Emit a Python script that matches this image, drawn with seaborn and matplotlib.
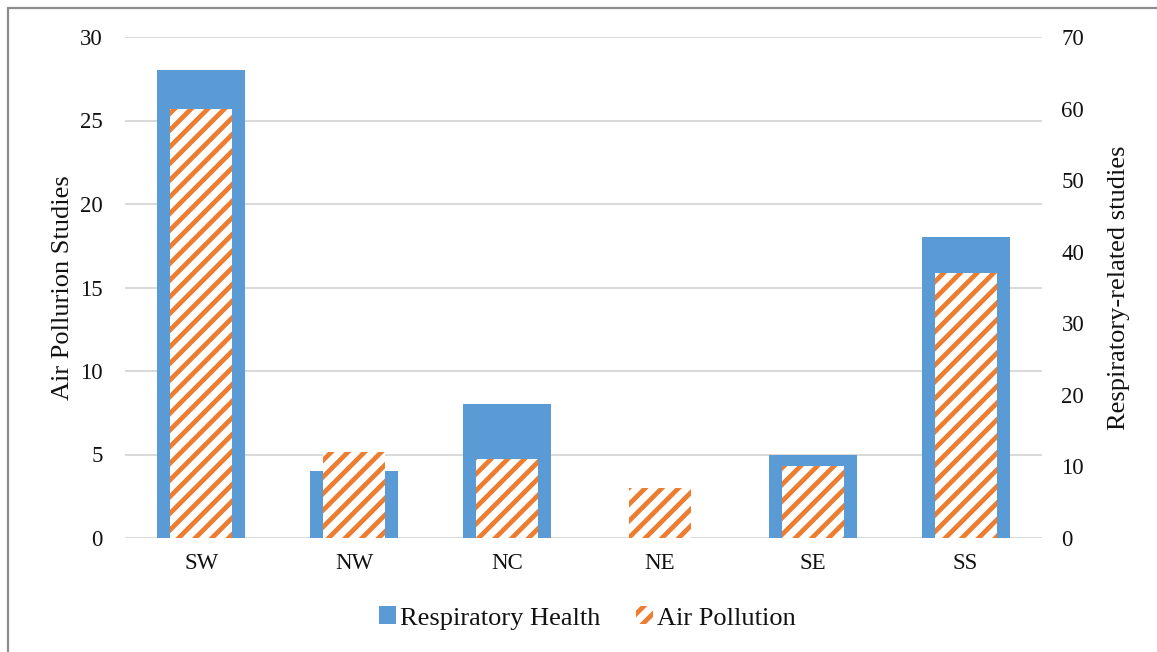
import matplotlib
matplotlib.use("Agg")
import matplotlib.pyplot as plt
from matplotlib.patches import Patch, Rectangle
import seaborn as sns
import pandas as pd

# Study counts by region
regions = ["SW", "NW", "NC", "NE", "SE", "SS"]
respiratory_health = [28, 4, 8, 0, 5, 18]
air_pollution = [60, 12, 11, 7, 10, 37]

left_ticks = [0, 5, 10, 15, 20, 25, 30]
right_ticks = [0, 10, 20, 30, 40, 50, 60, 70]

BLUE = "#5B9BD5"
ORANGE = "#ED7D31"
GRID = "#D9D9D9"
TEXT = "#111111"

sns.set_theme(style="white")
plt.rcParams["font.family"] = ["Liberation Serif", "DejaVu Serif"]
plt.rcParams["hatch.linewidth"] = 3.4
plt.rcParams["hatch.color"] = ORANGE

df_resp = pd.DataFrame({"region": regions, "count": respiratory_health})
df_air = pd.DataFrame({"region": regions, "count": air_pollution})

fig = plt.figure(figsize=(11.57, 6.52), dpi=100)
ax = fig.add_axes([125 / 1157, 1 - 538 / 652, (1042 - 125) / 1157, (538 - 37) / 652])

sns.barplot(data=df_resp, x="region", y="count", order=regions, ax=ax,
            color=BLUE, saturation=1, width=0.576, linewidth=0, zorder=2)
ax.set_ylim(0, 30)
ax.set_yticks(left_ticks)
ax.set_xlim(-0.5, 5.5)
ax.yaxis.grid(True, color=GRID, linewidth=1.4, zorder=0)
ax.set_axisbelow(True)
ax.set_xlabel("")
ax.set_ylabel("Air Pollurion Studies", fontsize=19, labelpad=4, color=TEXT)
ax.tick_params(axis="y", length=0, pad=16, labelsize=16.5, colors=TEXT)
ax.tick_params(axis="x", length=0, pad=11, labelsize=16.5, colors=TEXT)
for s in ax.spines.values():
    s.set_visible(False)

ax2 = ax.twinx()
sns.barplot(data=df_air, x="region", y="count", order=regions, ax=ax2,
            color="white", saturation=1, width=0.405, hatch="//",
            edgecolor=ORANGE, linewidth=0, zorder=3)
ax2.set_ylim(0, 70)
ax2.set_yticks(right_ticks)
ax2.set_xlim(-0.5, 5.5)
ax2.set_ylabel("Respiratory-related studies", fontsize=19, labelpad=17, color=TEXT)
ax2.tick_params(axis="y", length=0, pad=14, labelsize=16.5, colors=TEXT)
ax2.grid(False)
for s in ax2.spines.values():
    s.set_visible(False)

handles = [
    Patch(facecolor=BLUE, edgecolor="none", label="Respiratory Health"),
    Patch(facecolor="white", hatch="//", edgecolor=ORANGE, linewidth=0,
          label="Air Pollution"),
]
leg = fig.legend(handles=handles, loc="center",
                 bbox_to_anchor=(587.5 / 1157, 1 - 618 / 652),
                 ncol=2, frameon=False, fontsize=19, handlelength=0.65,
                 handleheight=0.65, handletextpad=0.15, columnspacing=1.33)
for t in leg.get_texts():
    t.set_color(TEXT)

# Outer frame around the chart area
fig.patches.append(Rectangle((8 / 1157, -0.1), 1.2, 1.1 - 8 / 652,
                             transform=fig.transFigure, fill=False,
                             edgecolor="#8C8C8C", linewidth=1.6))

fig.savefig("out.png", dpi=100)
